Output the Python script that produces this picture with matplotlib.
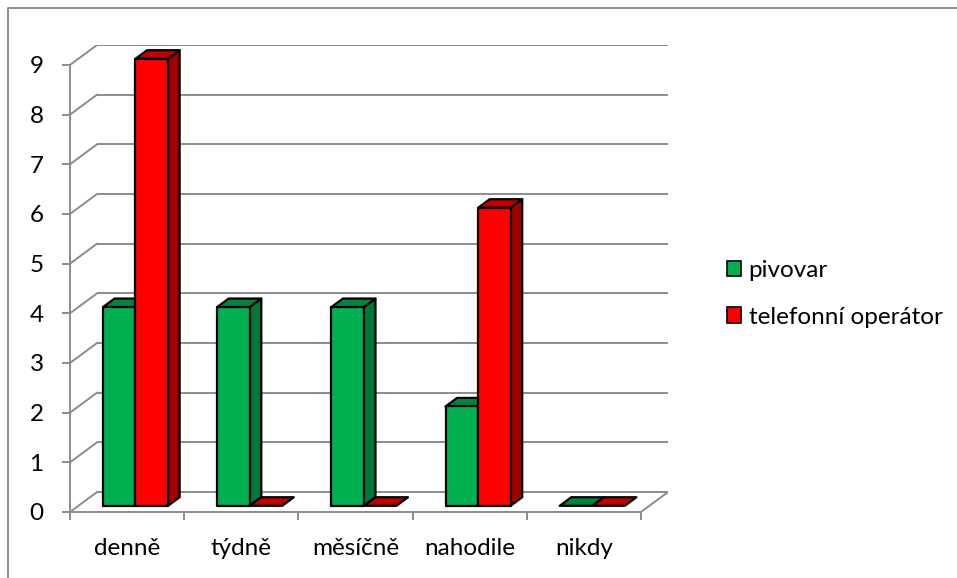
import matplotlib
matplotlib.use("Agg")
import matplotlib.pyplot as plt
from matplotlib.patches import Polygon, Patch
from matplotlib.lines import Line2D

plt.rcParams["font.family"] = ["Lato", "DejaVu Sans"]

categories = ["denně", "týdně", "měsíčně", "nahodile", "nikdy"]
pivovar = [4, 4, 4, 2, 0]
operator = [9, 0, 0, 6, 0]
series_names = ["pivovar", "telefonní operátor"]
y_ticks = list(range(0, 10))

# colours per series: front, side, top
colors = [
    ("#00B050", "#00783A", "#00843E"),
    ("#FF0000", "#A40000", "#C00000"),
]
grid_col = "#8C8C8C"

# pseudo-3D geometry (in data units)
DX, DY = 0.2365, 0.402     # wall depth
F0, F1 = 0.31, 0.74        # bar front / back depth fraction
BW = 0.285                 # bar width

W, H = 957, 578
fig = plt.figure(figsize=(W / 100, H / 100), dpi=100)
ax = fig.add_axes([70 / W, (H - 512) / H, 598 / W, 467 / H])
ax.set_xlim(-0.5, len(categories) - 0.5 + DX)
ax.set_ylim(0, y_ticks[-1] + DY)

# back wall grid lines and left wall diagonals
x_end = len(categories) - 0.5
for v in y_ticks:
    ax.plot([-0.5 + DX, x_end + DX], [v + DY, v + DY], color=grid_col, lw=1.4,
            solid_capstyle="butt", zorder=1)
    ax.plot([-0.5, -0.5 + DX], [v, v + DY], color=grid_col, lw=1.4, zorder=1)
# floor right edge
ax.plot([x_end, x_end + DX], [0, DY], color=grid_col, lw=1.4, zorder=1)

# axes as spines
for s in ["top", "right"]:
    ax.spines[s].set_visible(False)
for s in ["left", "bottom"]:
    ax.spines[s].set_color(grid_col)
    ax.spines[s].set_linewidth(1.4)
ax.spines["left"].set_bounds(0, y_ticks[-1])
ax.spines["bottom"].set_bounds(-0.5, x_end)
ax.set_yticks(y_ticks)
ax.set_yticklabels([str(v) for v in y_ticks])
ax.tick_params(axis="y", length=6, width=1.4, color=grid_col, pad=13,
               labelsize=17.5)
ax.set_xticks([i - 0.5 for i in range(len(categories) + 1)])
ax.set_xticklabels([])
ax.tick_params(axis="x", which="major", length=6, width=1.4, color=grid_col)
ax.set_xticks(range(len(categories)), minor=True)
ax.set_xticklabels(categories, minor=True)
ax.tick_params(axis="x", which="minor", length=0, pad=19, labelsize=17.5)


def draw_bar(x0, h, cols, z):
    front, side, top = cols
    ox, oy = F0 * DX, F0 * DY
    bx, by = F1 * DX, F1 * DY
    kw = dict(edgecolor="black", lw=1.6, joinstyle="round", zorder=z)
    top_pts = [(x0 + ox, h + oy), (x0 + BW + ox, h + oy),
               (x0 + BW + bx, h + by), (x0 + bx, h + by)]
    if h > 0:
        side_pts = [(x0 + BW + ox, oy), (x0 + BW + bx, by),
                    (x0 + BW + bx, h + by), (x0 + BW + ox, h + oy)]
        front_pts = [(x0 + ox, oy), (x0 + BW + ox, oy),
                     (x0 + BW + ox, h + oy), (x0 + ox, h + oy)]
        ax.add_patch(Polygon(side_pts, facecolor=side, **kw))
        ax.add_patch(Polygon(top_pts, facecolor=top, **kw))
        ax.add_patch(Polygon(front_pts, facecolor=front, **kw))
    else:
        ax.add_patch(Polygon(top_pts, facecolor=top, **kw))


z = 3
for i in range(len(categories)):
    for k, vals in enumerate([pivovar, operator]):
        draw_bar(i - BW + k * BW, vals[i], colors[k], z)
        z += 1

handles = [Patch(facecolor=c[0], edgecolor="black", lw=1.2) for c in colors]
fig.legend(handles, series_names, loc="center left",
           bbox_to_anchor=(705 / W, 1 - 294 / H), frameon=False,
           fontsize=17.5, handlelength=0.6, handleheight=0.6,
           handletextpad=0.3, labelspacing=1.05)

# outer chart-area border
fig.add_artist(Line2D([8 / W, 8 / W, 1], [0, 1 - 8 / H, 1 - 8 / H],
                      color="#8C8C8C", lw=1.4, transform=fig.transFigure))

fig.savefig("out.png", dpi=100)
